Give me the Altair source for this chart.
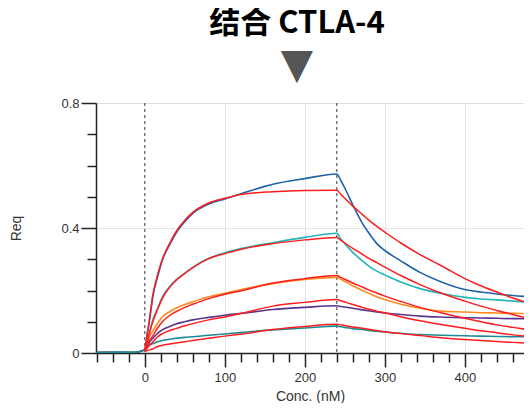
import altair as alt
import pandas as pd

# ---- time axes (s) ----
base_t = [-60, -45, -30, -15]
assoc_t = [0, 3, 6, 10, 16, 22, 31, 39, 50, 60, 80, 100, 122, 160, 200, 240]
dissoc_t = [245, 250, 260, 272, 280, 290, 300, 320, 344, 370, 400, 420, 440, 460, 480]

# ---- measured curves (baseline, association, dissociation) ----
blue_base = [0.002, 0.001, 0.002, 0.002]
blue_assoc = [0.01, 0.06, 0.106, 0.18, 0.244, 0.298, 0.346, 0.383, 0.42, 0.447, 0.477, 0.493, 0.511, 0.54, 0.558, 0.573]
blue_dissoc = [0.552, 0.528, 0.474, 0.415, 0.384, 0.35, 0.328, 0.295, 0.258, 0.228, 0.203, 0.195, 0.189, 0.184, 0.18]

cyan_base = [0.001, 0.002, 0.001, 0.002]
cyan_assoc = [0.01, 0.04, 0.068, 0.106, 0.143, 0.18, 0.212, 0.234, 0.255, 0.274, 0.303, 0.321, 0.335, 0.353, 0.37, 0.383]
cyan_dissoc = [0.365, 0.35, 0.322, 0.295, 0.278, 0.262, 0.25, 0.227, 0.206, 0.191, 0.178, 0.173, 0.17, 0.166, 0.162]

orange_base = [0.002, 0.002, 0.001, 0.002]
orange_assoc = [0.01, 0.03, 0.052, 0.07, 0.095, 0.116, 0.132, 0.143, 0.155, 0.164, 0.18, 0.191, 0.204, 0.222, 0.235, 0.242]
orange_dissoc = [0.236, 0.229, 0.215, 0.2, 0.191, 0.18, 0.171, 0.156, 0.143, 0.134, 0.131, 0.129, 0.128, 0.127, 0.126]

purple_base = [0.001, 0.002, 0.002, 0.001]
purple_assoc = [0.01, 0.02, 0.036, 0.047, 0.063, 0.074, 0.085, 0.093, 0.1, 0.106, 0.114, 0.121, 0.127, 0.139, 0.146, 0.151]
purple_dissoc = [0.149, 0.147, 0.143, 0.138, 0.135, 0.131, 0.128, 0.123, 0.118, 0.115, 0.113, 0.112, 0.111, 0.11, 0.11]

teal_base = [0.002, 0.002, 0.002, 0.002]
teal_assoc = [0.01, 0.02, 0.026, 0.03, 0.036, 0.04, 0.044, 0.047, 0.05, 0.052, 0.057, 0.061, 0.066, 0.074, 0.08, 0.086]
teal_dissoc = [0.084, 0.082, 0.078, 0.075, 0.072, 0.07, 0.067, 0.063, 0.059, 0.057, 0.055, 0.054, 0.053, 0.052, 0.052]

# ---- fitted curves (association, dissociation) ----
blue_fit_assoc = [0.01, 0.06, 0.11, 0.185, 0.25, 0.30, 0.35, 0.388, 0.425, 0.45, 0.48, 0.495, 0.508, 0.516, 0.52, 0.521]
blue_fit_dissoc = [0.508, 0.495, 0.47, 0.443, 0.425, 0.405, 0.387, 0.352, 0.315, 0.28, 0.238, 0.215, 0.195, 0.176, 0.159]
cyan_fit_assoc = [0.01, 0.035, 0.065, 0.10, 0.14, 0.175, 0.21, 0.232, 0.255, 0.273, 0.302, 0.318, 0.333, 0.35, 0.362, 0.37]
cyan_fit_dissoc = [0.361, 0.352, 0.335, 0.316, 0.303, 0.289, 0.275, 0.248, 0.219, 0.192, 0.166, 0.15, 0.136, 0.123, 0.111]
orange_fit_assoc = [0.01, 0.025, 0.04, 0.055, 0.08, 0.10, 0.12, 0.132, 0.146, 0.156, 0.174, 0.188, 0.20, 0.224, 0.238, 0.248]
orange_fit_dissoc = [0.242, 0.236, 0.224, 0.211, 0.202, 0.192, 0.182, 0.165, 0.146, 0.129, 0.111, 0.1, 0.09, 0.082, 0.074]
purple_fit_assoc = [0.008, 0.015, 0.025, 0.035, 0.052, 0.062, 0.072, 0.078, 0.087, 0.094, 0.106, 0.115, 0.127, 0.15, 0.162, 0.171]
purple_fit_dissoc = [0.167, 0.163, 0.155, 0.146, 0.14, 0.134, 0.129, 0.116, 0.103, 0.091, 0.079, 0.071, 0.065, 0.058, 0.053]
teal_fit_assoc = [0.005, 0.008, 0.01, 0.013, 0.021, 0.025, 0.029, 0.032, 0.036, 0.04, 0.047, 0.054, 0.061, 0.075, 0.085, 0.092]
teal_fit_dissoc = [0.09, 0.088, 0.083, 0.079, 0.076, 0.072, 0.068, 0.062, 0.056, 0.049, 0.043, 0.04, 0.037, 0.034, 0.031]

phase_marks = [0, 240]

series_names = ["blue", "cyan", "orange", "purple", "teal"]
series_colors = ["#1f62a8", "#22b6ba", "#ff8a1c", "#58338f", "#1b8a94"]
fit_color = "#ff1c1c"

measured = {
    "blue": (blue_base, blue_assoc, blue_dissoc),
    "cyan": (cyan_base, cyan_assoc, cyan_dissoc),
    "orange": (orange_base, orange_assoc, orange_dissoc),
    "purple": (purple_base, purple_assoc, purple_dissoc),
    "teal": (teal_base, teal_assoc, teal_dissoc),
}
fitted = {
    "blue": (blue_fit_assoc, blue_fit_dissoc),
    "cyan": (cyan_fit_assoc, cyan_fit_dissoc),
    "orange": (orange_fit_assoc, orange_fit_dissoc),
    "purple": (purple_fit_assoc, purple_fit_dissoc),
    "teal": (teal_fit_assoc, teal_fit_dissoc),
}

rows = []
for name, (b, a, d) in measured.items():
    ts = base_t + assoc_t + dissoc_t
    ys = b + a + d
    for i, (t, y) in enumerate(zip(ts, ys)):
        rows.append({"t": t, "y": y, "series": name, "i": i})
meas_df = pd.DataFrame(rows)

rows = []
for name, (a, d) in fitted.items():
    ts = assoc_t + dissoc_t
    ys = a + d
    for i, (t, y) in enumerate(zip(ts, ys)):
        rows.append({"t": t, "y": y, "series": name, "i": i})
fit_df = pd.DataFrame(rows)

phase_df = pd.DataFrame({"t": phase_marks})

x_vals = list(range(-60, 481, 20))
y_vals = [0, 0.1, 0.2, 0.3, 0.4, 0.5, 0.6, 0.7, 0.8]

x_scale = alt.Scale(domain=[-61, 474], nice=False, zero=False)
y_scale = alt.Scale(domain=[0, 0.8], nice=False, zero=False)

x_axis = alt.Axis(
    values=x_vals,
    tickCount=len(x_vals),
    title="Conc. (nM)",
    grid=True,
    gridColor="#e4e4e4",
    gridWidth=1,
    gridOpacity={"condition": {"test": "datum.value % 100 === 0 && datum.value > 0", "value": 1}, "value": 0},
    tickSize={"condition": {"test": "datum.value % 100 === 0", "value": 14}, "value": 9},
    tickColor="#222",
    tickWidth=1.5,
    domainColor="#222",
    domainWidth=1.5,
    labelExpr="(datum.value % 100 === 0 && datum.value >= 0) ? datum.label : ''",
    labelOverlap=False,
    labelFlush=False,
    labelFont="Liberation Sans",
    labelFontSize=13,
    labelColor="#333",
    labelPadding=4,
    titleFont="Liberation Sans",
    titleFontSize=14,
    titleFontWeight="normal",
    titleColor="#333",
    titleY=43,
    titleBaseline="middle",
)

y_axis = alt.Axis(
    values=y_vals,
    tickCount=len(y_vals),
    title="Req",
    grid=True,
    gridColor="#e4e4e4",
    gridWidth=1,
    gridOpacity={"condition": {"test": "datum.value === 0.4", "value": 1}, "value": 0},
    tickSize={"condition": {"test": "datum.value === 0 || datum.value === 0.4 || datum.value === 0.8", "value": 15}, "value": 9},
    tickColor="#222",
    tickWidth=1.5,
    domainColor="#222",
    domainWidth=1.5,
    labelExpr="datum.value === 0 ? '0' : ((datum.value === 0.4 || datum.value === 0.8) ? format(datum.value, '.1f') : '')",
    labelOverlap=False,
    labelFlush=False,
    labelFont="Liberation Sans",
    labelFontSize=13,
    labelColor="#333",
    labelPadding=2,
    titleFont="Liberation Sans",
    titleFontSize=14,
    titleFontWeight="normal",
    titleColor="#333",
    titleX=-80,
    titleY=125,
    titleBaseline="middle",
    titleAlign="center",
)

measured_lines = alt.Chart(meas_df).mark_line(strokeWidth=1.6, clip=True, interpolate="monotone").encode(
    x=alt.X("t:Q", scale=x_scale, axis=x_axis),
    y=alt.Y("y:Q", scale=y_scale, axis=y_axis),
    color=alt.Color("series:N", scale=alt.Scale(domain=series_names, range=series_colors), legend=None),
    order=alt.Order("i:Q"),
)

fit_lines = alt.Chart(fit_df).mark_line(strokeWidth=1.5, color=fit_color, clip=True, interpolate="monotone").encode(
    x="t:Q",
    y="y:Q",
    detail="series:N",
    order=alt.Order("i:Q"),
)

phase_rules = alt.Chart(phase_df).mark_rule(color="#555", strokeDash=[3, 3], strokeWidth=1.2).encode(
    x=alt.X("t:Q", scale=x_scale, axis=x_axis),
)

chart = alt.layer(phase_rules, measured_lines, fit_lines).properties(
    width=428,
    height=250,
    title=alt.TitleParams(
        text="结合 CTLA-4",
        subtitle="▼",
        font="Noto Sans CJK SC",
        fontSize=31,
        fontWeight="bold",
        color="#000",
        subtitleFont="DejaVu Sans",
        subtitleFontSize=42,
        subtitleColor="#555",
        subtitlePadding=5,
        anchor="middle",
        dx=-13,
        offset=10,
    ),
    autosize=alt.AutoSizeParams(type="none"),
    padding={"left": 88, "top": 95, "right": 0, "bottom": 50},
).configure_view(stroke=None).configure(background="white")

chart.save("out.html", embed_options={"renderer": "svg", "actions": False})
